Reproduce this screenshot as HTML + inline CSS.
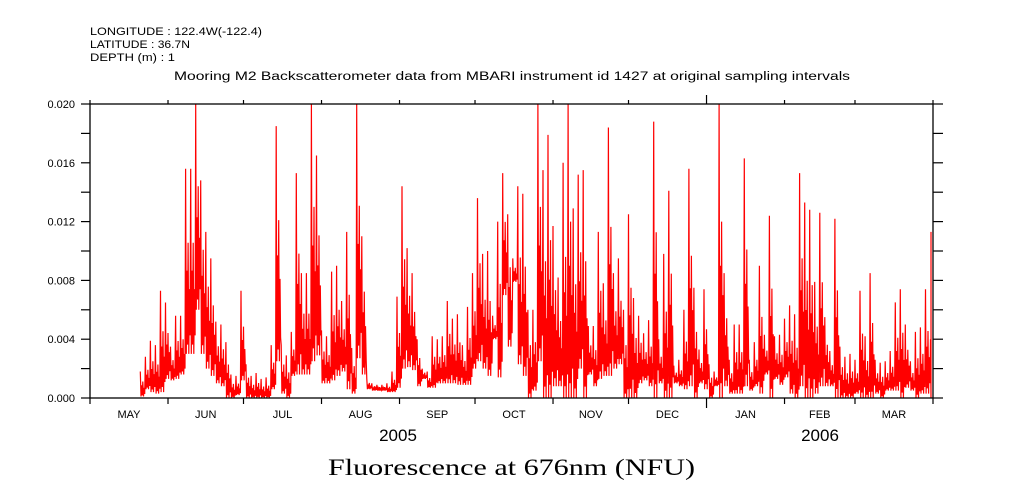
<!DOCTYPE html>
<html><head><meta charset="utf-8"><style>
body{margin:0;background:#fff;}
svg{display:block;}
text{font-family:"Liberation Sans",sans-serif;fill:#000;}
</style></head><body>
<svg id="chart" width="1009" height="504" viewBox="0 0 1009 504" xmlns="http://www.w3.org/2000/svg">
<defs><clipPath id="plotclip"><rect x="90" y="100" width="843" height="300"/></clipPath></defs>
<rect width="1009" height="504" fill="#fff"/>
<text x="90" y="35" font-size="11" textLength="172" lengthAdjust="spacingAndGlyphs">LONGITUDE : 122.4W(-122.4)</text>
<text x="90" y="48" font-size="11" textLength="100" lengthAdjust="spacingAndGlyphs">LATITUDE : 36.7N</text>
<text x="90" y="61" font-size="11" textLength="85" lengthAdjust="spacingAndGlyphs">DEPTH (m) : 1</text>
<text x="174" y="80" font-size="11.5" textLength="676" lengthAdjust="spacingAndGlyphs">Mooring M2 Backscatterometer data from MBARI instrument id 1427 at original sampling intervals</text>
<g id="series" clip-path="url(#plotclip)"></g>
<g id="axes"></g>
<text x="398" y="441" font-size="17" text-anchor="middle">2005</text>
<text x="820" y="441" font-size="17" text-anchor="middle">2006</text>
<text x="328" y="475" font-size="23" textLength="367" lengthAdjust="spacingAndGlyphs" style="font-family:'Liberation Serif',serif">Fluorescence at 676nm (NFU)</text>
</svg>
<script>
// 2-day bins starting May 1 2005; values in units of 0.001 NFU
const binStartDay = 0;
const binDays = 2;
const maxVals = [null,null,null,null,null,null,null,null,null,null,
1.8,2.8,3.9,3.6,7.3,6.5,3.5,5.6,5.6,15.6,
15.6,20,14.8,11.3,9.5,5.2,5,3.8,1.6,1.5,
7.3,2.3,1.5,1.7,1.3,1.4,3.6,18.5,3.6,2.9,
4.5,15.3,8.5,8.5,20,16.5,4.6,4.2,8.6,9,
6.6,11.3,3.4,20,11,1.3,1.0,0.9,0.9,1.0,
1.8,6.9,14.4,10.2,8.5,4,2.0,1.8,4.2,4,
4.2,6.6,5.4,5.7,3.6,6.2,8.5,13.6,9.8,10,
5.6,12,15.3,12.5,9.5,14.4,13.9,6,6,20,
15.5,17.9,11.7,8.2,16,20,12.9,15.2,15.5,4.9,
4.9,11.3,7.8,18.4,8.5,9.5,6,12.5,6.8,5.6,
4.4,5.3,18.8,4,9.8,14.1,2.2,2.6,6,15.6,
7.5,3.3,7.4,2.3,1.8,20,8.5,2.6,5,5,
16.3,2.6,3.8,9,4.3,12.4,4.2,4.3,5.4,6.3,
5.7,15.3,13.3,12.8,7.9,12.6,5.5,3.2,12.2,3.5,
2.8,3,2.6,7.3,4.2,8.5,2.6,2.4,2.5,3.2,
6.5,7.4,5,2.5,4.5,4.8,7.4,4,11.3];
const minVals = [null,null,null,null,null,null,null,null,null,null,
0.1,0.6,0.4,0.3,0.4,1.3,1.2,1.3,1.6,3,
3,6,3,2,1.5,1,0.8,0,0,0.2,
1.2,0,0,0,0,0,0.6,2.5,0.3,0,
1.5,1.6,1.6,1.6,2.5,2.9,1,1,1.2,1.5,
1.8,0.6,0.3,2.7,1.6,0.6,0.5,0.5,0.5,0.4,
0.4,0.7,2,2.1,1.9,0.8,1.3,0.7,0.7,1.0,
1.0,1.0,1,0.9,0.9,0.9,2,2.5,2,1.5,
4,1.4,7,3.5,7.9,2.3,1.5,0,0.5,2.5,
0,0,0.8,0.8,0,0,0,2,0,1.6,
0.8,1.3,1.5,1.5,2,2.3,0,0,0,1,
1.2,0.8,0,1,0,0,1,0.8,0.6,0.8,
0,1,0.6,0,0.8,0,0.8,0.3,0.3,0.3,
0.8,0.5,0.8,0.3,1.6,0,1.3,0.9,1.4,0.3,
0,0.8,0,0,0.3,0.8,0.8,0.8,0,0,
0,0,0.3,0,0,0,0.3,0,0.5,0.5,
0.5,0,0.7,0.5,0,0.3,0.3,0,0.5];
const yTicks = [0,0.004,0.008,0.012,0.016,0.020];
const yTickLabels = ["0.000","0.004","0.008","0.012","0.016","0.020"];
const monthLabels = ["MAY","JUN","JUL","AUG","SEP","OCT","NOV","DEC","JAN","FEB","MAR"];
const monthStartDays = [0,31,61,92,123,153,184,214,245,276,304,335];

const X0=90, X1=933, Y0=398, Y1=104, TOTAL=335, YMAX=0.020;
function xs(d){return X0+(X1-X0)*d/TOTAL;}
function ys(v){return Y0-(Y0-Y1)*v/YMAX;}
const NS='http://www.w3.org/2000/svg';
function mk(tag,attrs,parent){const e=document.createElementNS(NS,tag);for(const k in attrs)e.setAttribute(k,attrs[k]);parent.appendChild(e);return e;}

const sg=document.getElementById('series');
let pts=[];
const frac=[1,0,0.45,0.05,0.6,0,0.35,0.1];
for(let i=0;i<maxVals.length;i++){
  if(maxVals[i]==null)continue;
  const d=binStartDay+i*binDays;
  const a=xs(d), b=xs(d+binDays);
  const hi=Math.min(maxVals[i]/1000,YMAX), lo=minVals[i]/1000;
  const n=frac.length;
  for(let j=0;j<n;j++){
    const x=Math.min(a+(b-a)*j/n,931);
    const v=lo+(hi-lo)*frac[j];
    pts.push(x.toFixed(1)+','+ys(v).toFixed(1));
  }
}
const pl=mk('polyline',{points:pts.join(' '),fill:'none',stroke:'#ff0000','stroke-width':'1.2'},sg);



const ag=document.getElementById('axes');
const frame=mk('rect',{x:X0,y:Y1,width:X1-X0,height:Y0-Y1,fill:'none',stroke:'#000','stroke-width':'1.3'},ag);


for(let v=0;v<=0.0201;v+=0.002){
  const y=ys(v);
  mk('line',{x1:X0-9,x2:X0,y1:y,y2:y,stroke:'#000','stroke-width':'1.2'},ag);
  mk('line',{x1:X1,x2:X1+10,y1:y,y2:y,stroke:'#000','stroke-width':'1.2'},ag);
}
yTicks.forEach((v,i)=>{
  const t=mk('text',{x:75,y:ys(v)+4,'font-size':'11','text-anchor':'end'},ag);
  t.textContent=yTickLabels[i];
  
  
});
monthStartDays.forEach((d,i)=>{
  const x=xs(d);
  const yr=(d===245);
  mk('line',{x1:x,x2:x,y1:Y0,y2:Y0+(yr?10:6),stroke:'#000','stroke-width':'1.2'},ag);
  mk('line',{x1:x,x2:x,y1:Y1,y2:Y1-(yr?9:4),stroke:'#000','stroke-width':'1.2'},ag);
});
monthLabels.forEach((m,i)=>{
  const x=(xs(monthStartDays[i])+xs(monthStartDays[i+1]))/2;
  const t=mk('text',{x:x,y:418,'font-size':'11','text-anchor':'middle'},ag);
  t.textContent=m;
  
  
});
</script>
</body></html>
